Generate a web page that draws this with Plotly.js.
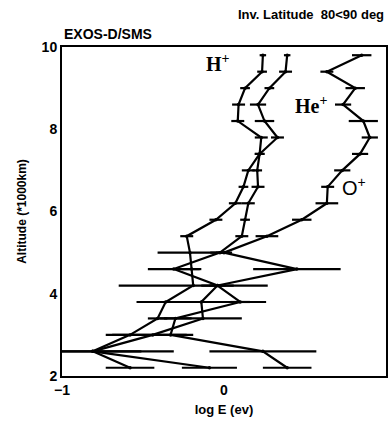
<!DOCTYPE html>
<html><head><meta charset="utf-8">
<script src="https://cdn.plot.ly/plotly-3.0.1.min.js"></script>
<style>html,body{margin:0;padding:0;background:#fff}#c{width:388px;height:427px}</style>
</head><body><div id="c"></div>
<script>
const altitude = [9.8, 9.4, 9.0, 8.6, 8.2, 7.8, 7.4, 7.0, 6.6, 6.2, 5.8, 5.4, 5.0, 4.6, 4.2, 3.8, 3.4, 3.0, 2.6, 2.2];
const hLogE  = [0.24, 0.235, 0.13, 0.09, 0.085, 0.23, 0.22, 0.15, 0.12, 0.07, -0.05, -0.23, -0.21, -0.20, -0.19, -0.36, -0.41, -0.58, -0.81, -0.58];
const hErr   = [0.02, 0.03, 0.03, 0.04, 0.04, 0.04, 0.03, 0.04, 0.03, 0.04, 0.04, 0.04, 0.20, 0.06, 0.46, 0.10, 0.06, 0.15, 0.50, 0.15];
const heLogE = [0.39, 0.38, 0.28, 0.21, 0.25, 0.33, 0.22, 0.205, 0.21, 0.15, 0.13, 0.11, -0.025, -0.31, -0.04, -0.14, -0.13, -0.44, -0.81, -0.09];
const heErr  = [0.02, 0.04, 0.03, 0.05, 0.06, 0.04, 0.03, 0.03, 0.04, 0.04, 0.03, 0.04, 0.06, 0.16, 0.10, 0.40, 0.24, 0.25, 0.30, 0.17];
const oLogE  = [0.85, 0.635, 0.81, 0.735, 0.86, 0.90, 0.84, 0.73, 0.64, 0.635, 0.48, 0.265, 0.0, 0.45, -0.04, 0.10, -0.30, -0.33, 0.24, 0.39];
const oErr   = [0.06, 0.04, 0.06, 0.05, 0.09, 0.05, 0.05, 0.05, 0.04, 0.07, 0.06, 0.07, 0.05, 0.27, 0.05, 0.06, 0.10, 0.10, 0.33, 0.15];
const xTicks = [-1, 0, 1];
const xTickText = ['\u22121', '0', '1'];
const yTicks = [2, 4, 6, 8, 10];

function series(x, e) {
  return {
    x: x, y: altitude, type: 'scatter', mode: 'lines+markers',
    line: {color: '#000', width: 2.2},
    marker: {color: '#000', size: 3.5},
    error_x: {type: 'data', array: e, visible: true, color: '#000', thickness: 2.2, width: 0},
    showlegend: false, cliponaxis: true
  };
}
const data = [series(hLogE, hErr), series(heLogE, heErr), series(oLogE, oErr)];
const sans = 'Liberation Sans, Arial, sans-serif';
const serif = 'Liberation Serif, Times New Roman, serif';
const layout = {
  width: 388, height: 427,
  margin: {l: 62, r: 2, t: 47, b: 51},
  paper_bgcolor: '#fff', plot_bgcolor: '#fff',
  xaxis: {range: [-1, 1], tickvals: xTicks, ticktext: xTickText, showgrid: false, zeroline: false,
          showline: true, mirror: true, linecolor: '#000', linewidth: 2, ticks: '',
          tickfont: {family: sans, size: 14, color: '#000', weight: 'bold'},
          title: {text: 'log E (ev)', font: {family: sans, size: 13, color: '#000', weight: 'bold'}, standoff: 8}},
  yaxis: {range: [2, 10], tickvals: yTicks, showgrid: false, zeroline: false,
          showline: true, mirror: true, linecolor: '#000', linewidth: 2, ticks: '',
          tickfont: {family: sans, size: 14, color: '#000', weight: 'bold'},
          title: {text: 'Altitude (*1000km)', font: {family: sans, size: 12, color: '#000', weight: 'bold'}, standoff: 12}},
  annotations: [
    {text: 'Inv. Latitude  80<90 deg', xref: 'paper', yref: 'paper', x: 1.0, y: 1.098, xanchor: 'right', yanchor: 'middle', showarrow: false, font: {family: sans, size: 13, color: '#000', weight: 'bold'}},
    {text: 'EXOS-D/SMS', xref: 'paper', yref: 'paper', x: 0.0, y: 1.04, xanchor: 'left', yanchor: 'middle', showarrow: false, font: {family: sans, size: 14, color: '#000', weight: 'bold'}},
    {text: 'H<sup>+</sup>', xref: 'x', yref: 'y', x: -0.04, y: 9.62, showarrow: false, font: {family: serif, size: 20, color: '#000', weight: 'bold'}},
    {text: 'He<sup>+</sup>', xref: 'x', yref: 'y', x: 0.54, y: 8.6, showarrow: false, font: {family: serif, size: 20, color: '#000', weight: 'bold'}},
    {text: 'O<sup>+</sup>', xref: 'x', yref: 'y', x: 0.8, y: 6.6, showarrow: false, font: {family: sans, size: 20, color: '#000'}}
  ]
};
Plotly.newPlot('c', data, layout, {displayModeBar: false, staticPlot: true});
</script></body></html>
